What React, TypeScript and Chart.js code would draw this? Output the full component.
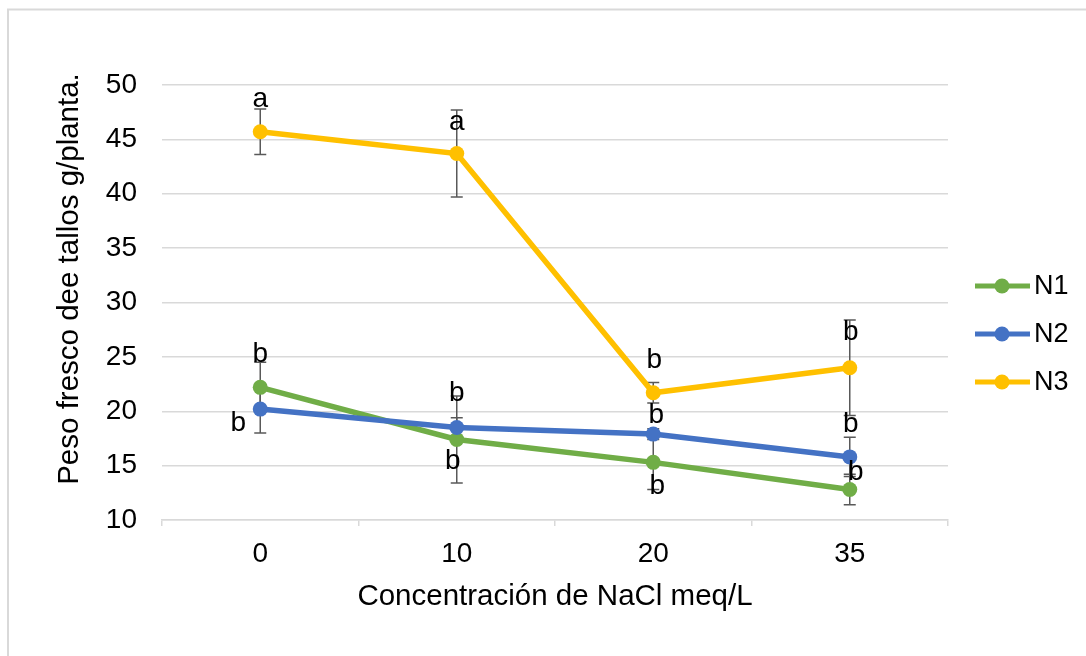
import { useEffect, useRef } from "react";
import { Chart, registerables } from "chart.js";

Chart.register(...registerables);

// ---- data ----
const categories = ["0", "10", "20", "35"];
const seriesNames = ["N1", "N2", "N3"];
const n1Values = [22.2, 17.4, 15.3, 12.8];
const n2Values = [20.2, 18.5, 17.9, 15.8];
const n3Values = [45.7, 43.7, 21.7, 24.0];
const n1Errors = [2.3, 4.0, 2.5, 1.4];
const n2Errors = [2.2, 0.9, 0.5, 1.8];
const n3Errors = [2.1, 4.0, 0.95, 4.4];
const n1Letters = ["b", "b", "b", "b"];
const n2Letters = ["b", "b", "b", "b"];
const n3Letters = ["a", "a", "b", "b"];
const yMin = 10;
const yMax = 50;
const yStep = 5;
const xTitle = "Concentración de NaCl meq/L";
const yTitle = "Peso fresco dee tallos g/planta.";

// ---- styles ----
const FONT = "'Liberation Sans', Arial, sans-serif";
const colors = ["#70AD47", "#4472C4", "#FFC000"];
const labelOffsets = [
  [[0, -33], [-4, 22], [4, 24], [6, -17]],
  [[-22, 14], [0, -34], [3, -19], [1, -33]],
  [[0, -32], [0, -31], [1, -32], [1, -35]],
];

export default function App() {
  const ref = useRef<HTMLCanvasElement | null>(null);

  useEffect(() => {
    if (!ref.current) return;
    const values = [n1Values, n2Values, n3Values];
    const errors = [n1Errors, n2Errors, n3Errors];
    const letters = [n1Letters, n2Letters, n3Letters];

    const bgPlugin = {
      id: "bg",
      beforeDraw(chart: any) {
        const ctx = chart.ctx;
        ctx.save();
        ctx.fillStyle = "#ffffff";
        ctx.fillRect(0, 0, chart.width, chart.height);
        ctx.strokeStyle = "#d9d9d9";
        ctx.lineWidth = 2;
        ctx.beginPath();
        ctx.moveTo(8, chart.height);
        ctx.lineTo(8, 9.5);
        ctx.lineTo(chart.width, 9.5);
        ctx.stroke();
        ctx.restore();
      },
    };

    const errorPlugin = {
      id: "errbars",
      beforeDatasetsDraw(chart: any) {
        const ctx = chart.ctx;
        const ys = chart.scales.y;
        ctx.save();
        ctx.strokeStyle = "#595959";
        ctx.lineWidth = 1.5;
        for (let i = 0; i < values.length; i++) {
          const meta = chart.getDatasetMeta(i);
          meta.data.forEach((pt: any, j: number) => {
            const v = values[i][j];
            const e = errors[i][j];
            const x = pt.x;
            const yt = ys.getPixelForValue(v + e);
            const yb = ys.getPixelForValue(v - e);
            ctx.beginPath();
            ctx.moveTo(x, yt);
            ctx.lineTo(x, yb);
            ctx.moveTo(x - 6, yt);
            ctx.lineTo(x + 6, yt);
            ctx.moveTo(x - 6, yb);
            ctx.lineTo(x + 6, yb);
            ctx.stroke();
          });
        }
        ctx.restore();
      },
    };

    const overlayPlugin = {
      id: "overlay",
      afterDraw(chart: any) {
        const ctx = chart.ctx;
        const area = chart.chartArea;
        ctx.save();
        // data letters
        ctx.fillStyle = "#000000";
        ctx.font = `28px ${FONT}`;
        ctx.textAlign = "center";
        ctx.textBaseline = "middle";
        for (let i = 0; i < values.length; i++) {
          const meta = chart.getDatasetMeta(i);
          meta.data.forEach((pt: any, j: number) => {
            const [dx, dy] = labelOffsets[i][j];
            ctx.fillText(letters[i][j], pt.x + dx, pt.y + dy);
          });
        }
        // axis titles
        ctx.font = `29.5px ${FONT}`;
        ctx.fillText(xTitle, (area.left + area.right) / 2, 597);
        ctx.save();
        ctx.translate(70, 279);
        ctx.rotate(-Math.PI / 2);
        ctx.fillText(yTitle, 0, 0);
        ctx.restore();
        // legend
        ctx.font = `27px ${FONT}`;
        ctx.textAlign = "left";
        for (let i = 0; i < seriesNames.length; i++) {
          const y = 286 + 48 * i;
          ctx.strokeStyle = colors[i];
          ctx.lineWidth = 5;
          ctx.beginPath();
          ctx.moveTo(975, y);
          ctx.lineTo(1030, y);
          ctx.stroke();
          ctx.fillStyle = colors[i];
          ctx.beginPath();
          ctx.arc(1002, y, 7.5, 0, Math.PI * 2);
          ctx.fill();
          ctx.fillStyle = "#000000";
          ctx.fillText(seriesNames[i], 1034, y + 1);
        }
        ctx.restore();
      },
    };

    const chart = new Chart(ref.current, {
      type: "line",
      data: {
        labels: categories,
        datasets: seriesNames.map((name, i) => ({
          label: name,
          data: values[i],
          borderColor: colors[i],
          backgroundColor: colors[i],
          pointBackgroundColor: colors[i],
          pointBorderColor: colors[i],
          borderWidth: 5.5,
          pointRadius: 7.5,
          pointBorderWidth: 0,
          pointHoverRadius: 7.5,
          tension: 0,
          fill: false,
          order: 3 - i,
        })),
      },
      options: {
        animation: false,
        responsive: true,
        maintainAspectRatio: false,
        layout: { padding: { top: 85, right: 138, left: 0, bottom: 0 } },
        plugins: {
          legend: { display: false },
          tooltip: { enabled: false },
          title: { display: false },
        },
        scales: {
          x: {
            type: "category",
            offset: true,
            grid: {
              display: true,
              drawOnChartArea: false,
              drawTicks: true,
              tickLength: 6,
              color: "#d9d9d9",
              lineWidth: 1.5,
              offset: true,
            },
            border: { display: true, color: "#d9d9d9", width: 1.5 },
            ticks: {
              color: "#000000",
              font: { family: FONT, size: 28 },
              padding: 11,
              maxRotation: 0,
            },
            afterFit(scale: any) {
              scale.height = 136;
            },
          },
          y: {
            min: yMin,
            max: yMax,
            ticks: {
              stepSize: yStep,
              color: "#000000",
              font: { family: FONT, size: 28 },
              padding: 25,
            },
            grid: {
              color: "#d9d9d9",
              lineWidth: 1.5,
              drawTicks: false,
            },
            border: { display: false },
            afterFit(scale: any) {
              scale.width = 162;
            },
          },
        },
      },
      plugins: [bgPlugin, errorPlugin, overlayPlugin],
    } as any);

    return () => chart.destroy();
  }, []);

  return (
    <div style={{ position: "fixed", left: 0, top: 0, width: 1086, height: 656, background: "#fff" }}>
      <canvas ref={ref} />
    </div>
  );
}
